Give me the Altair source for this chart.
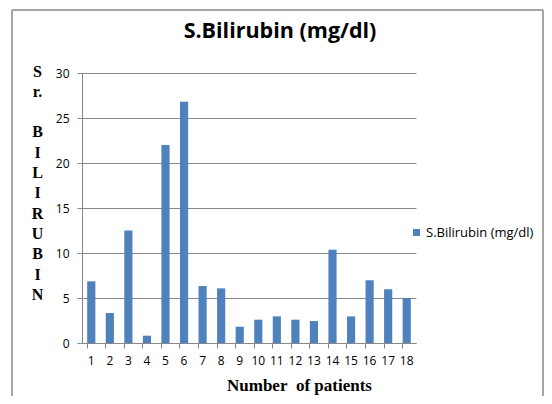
import altair as alt
import pandas as pd

patients = [str(i) for i in range(1, 19)]
bilirubin = [6.85, 3.33, 12.5, 0.81, 22.0, 26.8, 6.33, 6.07, 1.81, 2.59,
             2.96, 2.59, 2.44, 10.37, 2.96, 6.96, 5.96, 5.0]
series_name = "S.Bilirubin (mg/dl)"
y_ticks = [0, 5, 10, 15, 20, 25, 30]
y_title_lines = ["S", "r.", "\u200b", "B", "I", "L", "I", "R", "U", "B", "I", "N"]
x_title = "Number\u00a0 of patients"

df = pd.DataFrame({"patient": patients, "value": bilirubin,
                   "series": [series_name] * len(patients)})

GRAY = "#888888"
LABEL_FONT = "Open Sans"

bars = alt.Chart(df).mark_bar().encode(
    x=alt.X("patient:O", sort=patients,
            scale=alt.Scale(paddingInner=0.56, paddingOuter=0.28),
            axis=alt.Axis(title=x_title, labelAngle=0,
                          bandPosition=0, tickSize=5, tickColor=GRAY,
                          domainColor=GRAY, labelPadding=7,
                          labelFont=LABEL_FONT, labelFontSize=12,
                          labelColor="#000000",
                          titleFont="Liberation Serif", titleFontSize=17,
                          titleFontWeight="bold", titleColor="#000000",
                          titleX=217, titleY=47, titleAnchor="middle",
                          titleBaseline="alphabetic", grid=False)),
    y=alt.Y("value:Q", scale=alt.Scale(domain=[0, 30], nice=False),
            axis=alt.Axis(title=y_title_lines, values=y_ticks,
                          tickSize=5, tickColor=GRAY, domainColor=GRAY,
                          gridColor=GRAY, gridWidth=1, labelPadding=8,
                          labelFont=LABEL_FONT, labelFontSize=12,
                          labelColor="#000000",
                          titleFont="Liberation Serif", titleFontSize=16,
                          titleFontWeight="bold", titleColor="#000000",
                          titleAngle=0, titleAlign="center",
                          titleBaseline="top", titleX=-45, titleY=-10,
                          titleLineHeight=20.3)),
    color=alt.Color("series:N", scale=alt.Scale(range=["#4F81BD"]),
                    legend=alt.Legend(title=None, orient="none",
                                      legendX=328, legendY=153,
                                      symbolType="square", symbolSize=49,
                                      symbolStrokeWidth=0, padding=0,
                                      labelFont=LABEL_FONT, labelFontSize=13,
                                      labelOffset=3, labelColor="#000000")),
)

frame_src = pd.DataFrame({"k": [0]})
left_line = alt.Chart(frame_src).mark_rule(color=GRAY, strokeWidth=1.5).encode(
    x=alt.value(-70), y=alt.value(-63), y2=alt.value(340))
top_line = alt.Chart(frame_src).mark_rule(color=GRAY, strokeWidth=1.5).encode(
    x=alt.value(-70), x2=alt.value(461), y=alt.value(-63))
right_line = alt.Chart(frame_src).mark_rule(color=GRAY, strokeWidth=1.5).encode(
    x=alt.value(461), y=alt.value(-63), y2=alt.value(340))

chart = alt.layer(bars, left_line, top_line, right_line).properties(
    width=334, height=270,
    padding={"left": 74, "top": 65, "right": 128, "bottom": 53},
    autosize=alt.AutoSizeParams(type="none"),
    title=alt.TitleParams(series_name, font="Open Sans", fontSize=21.5,
                          fontWeight="bold", color="#000000", anchor="middle",
                          frame="group", dx=31, offset=0, dy=33),
).configure_view(stroke=None).configure_axis(domainWidth=1, tickWidth=1)

chart.save("out.html", embed_options={"renderer": "svg", "actions": False})
